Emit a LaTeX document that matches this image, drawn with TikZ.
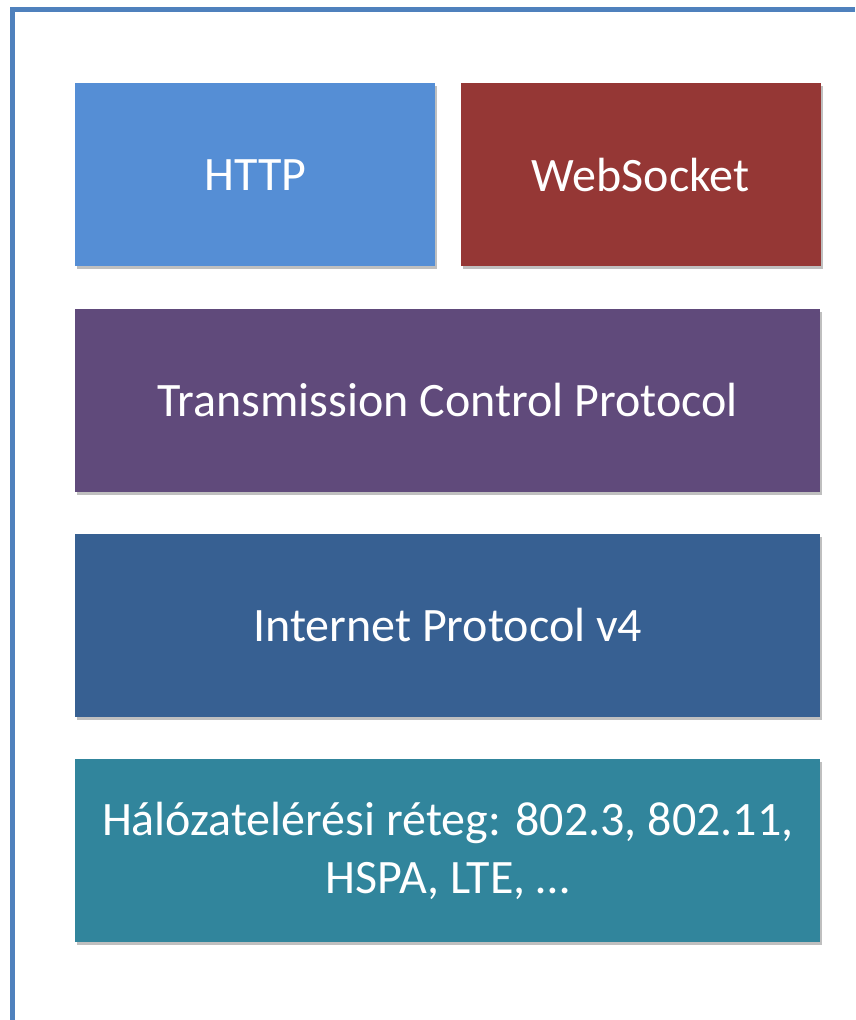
\documentclass[tikz,border=0pt]{standalone}
\usepackage{fontspec}
\setmainfont{Carlito}
\usetikzlibrary{positioning, shadows}

\definecolor{httpblue}{HTML}{558ED5}
\definecolor{wsred}{HTML}{953735}
\definecolor{tcppurple}{HTML}{604A7B}
\definecolor{ipblue}{HTML}{376092}
\definecolor{linkteal}{HTML}{31859C}
\definecolor{frameblue}{HTML}{4F81BD}

\begin{document}
\begin{tikzpicture}[
  x=1pt, y=1pt,
  font=\fontsize{48}{58}\selectfont,
  node distance=42pt and 25pt,
  layer/.style={rectangle, inner sep=0pt, align=center, text=white,
    minimum width=360pt, minimum height=183pt,
    drop shadow={shadow xshift=2pt, shadow yshift=-3pt, opacity=0.25, fill=black}},
  widelayer/.style={layer, minimum width=745pt},
  frameline/.style={draw=frameblue, line width=5pt}
]
\useasboundingbox (0,0) rectangle (855,-1020);
% outer frame
\draw[frameline] (12.5,-1020) |- (855,-9.5);

\node[layer, fill=httpblue, anchor=north west] (http) at (75,-83) {HTTP};
\node[layer, fill=wsred, right=of http] (ws) {WebSocket};
\node[widelayer, fill=tcppurple, below right=42pt and 0pt of http.south west] (tcp) {Transmission Control Protocol};
\node[widelayer, fill=ipblue, below=of tcp] (ip) {Internet Protocol v4};
\node[widelayer, fill=linkteal, below=of ip] (link) {Hálózatelérési réteg: 802.3, 802.11,\\HSPA, LTE, …};
\end{tikzpicture}
\end{document}
